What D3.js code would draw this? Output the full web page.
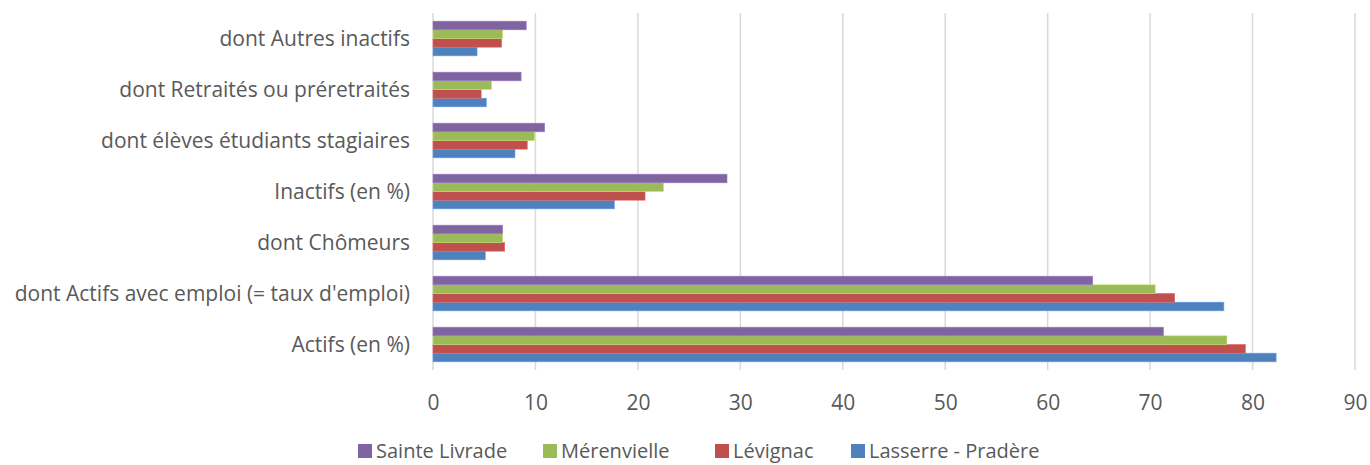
<!DOCTYPE html>
<html lang="fr">
<head>
<meta charset="UTF-8">
<title>Actifs / Inactifs</title>
<script src="https://d3js.org/d3.v7.min.js"></script>
<style>
  html, body { margin: 0; padding: 0; background: #fff; }
  svg { display: block; font-family: "Open Sans", "Noto Sans", sans-serif; }
</style>
</head>
<body>
<svg id="chart" width="1370" height="465"></svg>
<script>
// categories, bottom to top as in the source sheet
const categories = [
  "Actifs (en %)",
  "dont Actifs avec emploi (= taux d'emploi)",
  "dont Chômeurs",
  "Inactifs (en %)",
  "dont élèves étudiants stagiaires",
  "dont Retraités ou préretraités",
  "dont Autres inactifs"
];
const seriesNames = ["Lasserre - Pradère", "Lévignac", "Mérenvielle", "Sainte Livrade"];
const lasserre      = [82.3, 77.2, 5.1, 17.7, 8.0, 5.2, 4.3];
const levignac      = [79.3, 72.4, 7.0, 20.7, 9.2, 4.7, 6.7];
const merenvielle   = [77.5, 70.5, 6.8, 22.5, 9.9, 5.7, 6.8];
const sainteLivrade = [71.3, 64.4, 6.8, 28.7, 10.9, 8.6, 9.1];
const xTicks = [0, 10, 20, 30, 40, 50, 60, 70, 80, 90];
const colors = ["#4F81BD", "#C0504D", "#9BBB59", "#8064A2"];

const seriesValues = [lasserre, levignac, merenvielle, sainteLivrade];

const svg = d3.select("#chart");
const plotLeft = 433, plotRight = 1355, plotTop = 13, plotBottom = 370;
const textColor = "#595959";
const fontSize = 21;

const x = d3.scaleLinear().domain([0, 90]).range([plotLeft, plotRight]);
const y = d3.scaleBand()
  .domain(categories.slice().reverse())
  .range([plotTop, plotBottom])
  .paddingInner(0.32)
  .paddingOuter(0.16);
// series drawn top to bottom: Sainte Livrade ... Lasserre
const ySub = d3.scaleBand()
  .domain(seriesNames.slice().reverse())
  .range([0, y.bandwidth()]);

// gridlines
svg.append("g").selectAll("line")
  .data(xTicks)
  .join("line")
  .attr("x1", d => x(d)).attr("x2", d => x(d))
  .attr("y1", plotTop).attr("y2", plotBottom)
  .attr("stroke", "#d9d9d9")
  .attr("stroke-width", 1.5);

// bars
const groups = svg.append("g").selectAll("g")
  .data(categories)
  .join("g")
  .attr("transform", d => `translate(0,${y(d)})`);

groups.selectAll("rect")
  .data((c, i) => seriesNames.map((s, k) => ({ s, v: seriesValues[k][i], color: colors[k] })))
  .join("rect")
  .attr("x", x(0))
  .attr("y", d => ySub(d.s))
  .attr("width", d => x(d.v) - x(0))
  .attr("height", ySub.bandwidth())
  .attr("fill", d => d.color)
  .attr("stroke", d => d3.color(d.color).brighter(0.6))
  .attr("stroke-width", 0.6);

// category labels
svg.append("g").selectAll("text")
  .data(categories)
  .join("text")
  .attr("x", 410)
  .attr("y", d => y(d) + y.bandwidth() / 2)
  .attr("dy", "0.36em")
  .attr("text-anchor", "end")
  .attr("fill", textColor)
  .attr("font-size", fontSize)
  .text(d => d);

// x axis tick labels
const xAxis = d3.axisBottom(x).tickValues(xTicks).tickSize(0).tickPadding(0);
const ax = svg.append("g").attr("transform", `translate(0,${plotBottom})`).call(xAxis);
ax.select(".domain").remove();
ax.selectAll("text")
  .attr("y", 40)
  .attr("dy", 0)
  .attr("fill", textColor)
  .attr("font-size", fontSize)
  .attr("font-family", "\"Open Sans\", \"Noto Sans\", sans-serif");

// legend (Sainte Livrade first)
const legendX = [358, 543, 715, 851];
const legend = svg.append("g").selectAll("g")
  .data(seriesNames.slice().reverse())
  .join("g")
  .attr("transform", (d, i) => `translate(${legendX[i]},444)`);
legend.append("rect")
  .attr("width", 14).attr("height", 14)
  .attr("fill", (d, i) => colors[3 - i]);
legend.append("text")
  .attr("x", 18).attr("y", 7)
  .attr("dy", "0.36em")
  .attr("fill", textColor)
  .attr("font-size", 20)
  .text(d => d);
</script>
</body>
</html>
